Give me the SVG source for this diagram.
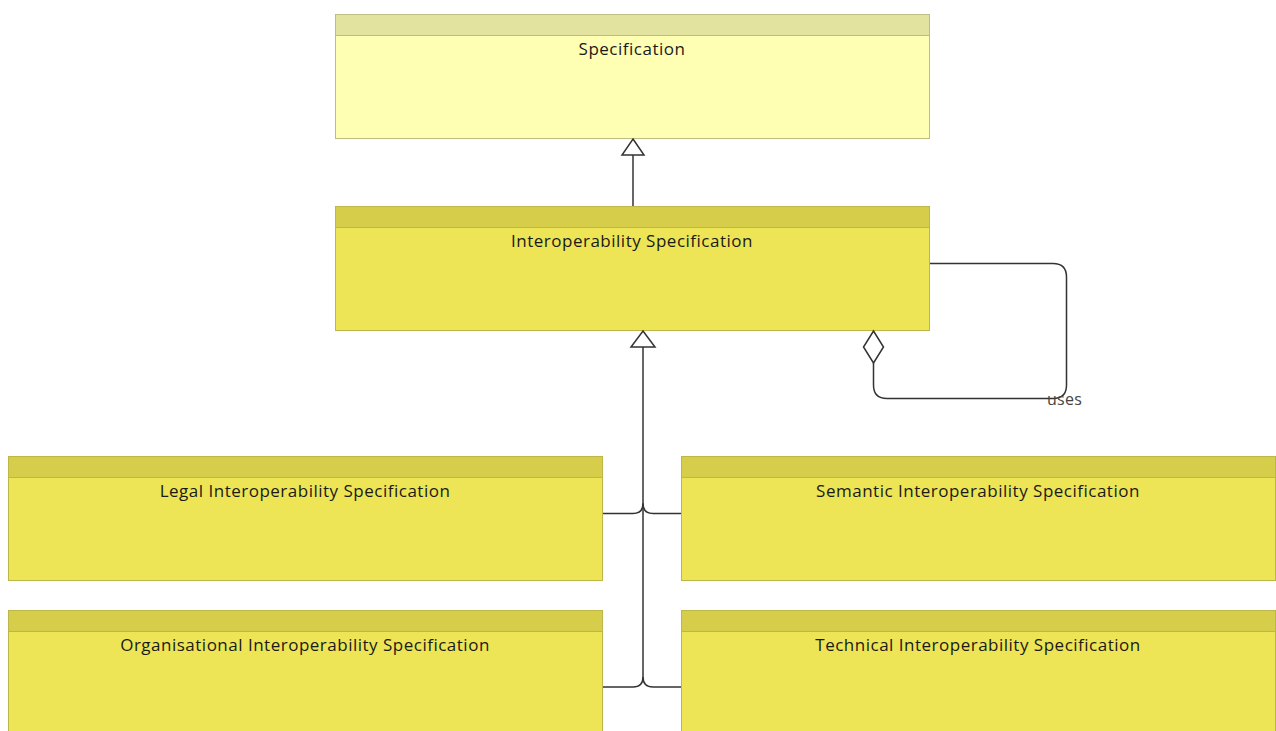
<svg xmlns="http://www.w3.org/2000/svg" width="1276" height="731" viewBox="0 0 1276 731">
  <style>
    .body-abs { fill: #ffffb4; stroke: #bcbc84; stroke-width: 1; }
    .head-abs { fill: #e3e3a0; stroke: #bcbc84; stroke-width: 1; }
    .body { fill: #ede555; stroke: #bfb64a; stroke-width: 1; }
    .head { fill: #d6ce4b; stroke: #bfb64a; stroke-width: 1; }
    .label { font-family: "Open Sans", "DejaVu Sans", sans-serif; font-size: 17px; letter-spacing: 0.5px; fill: #1a1a1a; text-anchor: middle; }
    .edge { fill: none; stroke: #333333; stroke-width: 1.5; }
    .tri { fill: #ffffff; stroke: #333333; stroke-width: 1.5; }
    .elabel { font-family: "Open Sans", "DejaVu Sans", sans-serif; font-size: 16px; letter-spacing: 0.3px; fill: #444444; }
  </style>
  <rect width="1276" height="731" fill="#ffffff"/>

  <g id="node-specification">
    <rect class="body-abs" x="335.5" y="14.5" width="594" height="124"/>
    <rect class="head-abs" x="335.5" y="14.5" width="594" height="21"/>
    <text class="label" x="632" y="55">Specification</text>
  </g>

  <g id="node-interoperability-specification">
    <rect class="body" x="335.5" y="206.5" width="594" height="124"/>
    <rect class="head" x="335.5" y="206.5" width="594" height="21"/>
    <text class="label" x="632" y="247">Interoperability Specification</text>
  </g>

  <g id="node-legal">
    <rect class="body" x="8.5" y="456.5" width="594" height="124"/>
    <rect class="head" x="8.5" y="456.5" width="594" height="21"/>
    <text class="label" x="305" y="497">Legal Interoperability Specification</text>
  </g>

  <g id="node-semantic">
    <rect class="body" x="681.5" y="456.5" width="594" height="124"/>
    <rect class="head" x="681.5" y="456.5" width="594" height="21"/>
    <text class="label" x="978" y="497">Semantic Interoperability Specification</text>
  </g>

  <g id="node-organisational">
    <rect class="body" x="8.5" y="610.5" width="594" height="130"/>
    <rect class="head" x="8.5" y="610.5" width="594" height="21"/>
    <text class="label" x="305" y="651">Organisational Interoperability Specification</text>
  </g>

  <g id="node-technical">
    <rect class="body" x="681.5" y="610.5" width="594" height="130"/>
    <rect class="head" x="681.5" y="610.5" width="594" height="21"/>
    <text class="label" x="978" y="651">Technical Interoperability Specification</text>
  </g>

  <g id="connectors">
    <!-- generalization: Interoperability Specification to Specification -->
    <path class="edge" d="M633,206 V155"/>
    <path class="tri" d="M633,139 L644,155 L622,155 Z"/>

    <!-- generalization tree: four sub-specifications to Interoperability Specification -->
    <path class="edge" d="M643,347 V677"/>
    <path class="edge" d="M603,513.5 H633 Q643,513.5 643,503.5"/>
    <path class="edge" d="M681,513.5 H653 Q643,513.5 643,503.5"/>
    <path class="edge" d="M603,687 H633 Q643,687 643,677"/>
    <path class="edge" d="M681,687 H653 Q643,687 643,677"/>
    <path class="tri" d="M643,331 L655,347 L631,347 Z"/>

    <!-- self aggregation "uses" -->
    <path class="edge" d="M930,263.5 H1053 Q1066.5,263.5 1066.5,277 V385 Q1066.5,398.5 1053,398.5 H887 Q873.5,398.5 873.5,385 V363"/>
    <path class="tri" d="M873.5,331 L883.5,347 L873.5,363 L863.5,347 Z"/>
    <text class="elabel" x="1047" y="405">uses</text>
  </g>
</svg>
